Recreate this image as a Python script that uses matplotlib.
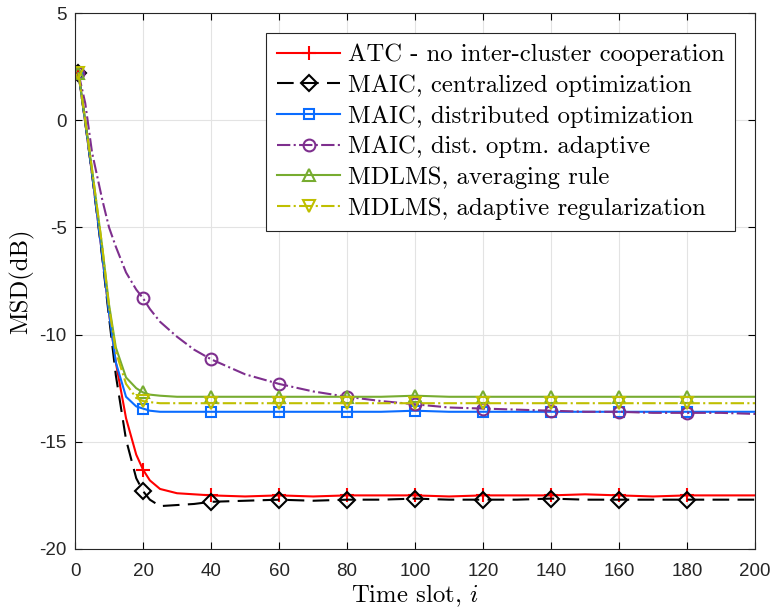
import matplotlib
matplotlib.use("Agg")
import matplotlib.pyplot as plt

plt.rcParams['mathtext.fontset'] = 'cm'
plt.rcParams['axes.unicode_minus'] = False

t = [1, 3, 5, 8, 10, 12, 15, 18, 20, 22, 25, 30, 35, 40, 50, 60, 70, 80, 90,
     100, 110, 120, 130, 140, 150, 160, 170, 180, 190, 200]

atc = [2.2, -0.1, -2.5, -6.3, -9.0, -11.3, -13.9, -15.6, -16.3, -16.8, -17.2, -17.4,
       -17.45, -17.5, -17.55, -17.5, -17.55, -17.5, -17.5, -17.5, -17.55, -17.5, -17.5,
       -17.5, -17.45, -17.5, -17.55, -17.5, -17.5, -17.5]
maic_cent = [2.2, -0.1, -2.5, -6.4, -9.2, -11.9, -14.9, -16.7, -17.3, -17.7, -18.0, -17.95,
             -17.9, -17.8, -17.75, -17.7, -17.75, -17.7, -17.7, -17.65, -17.7, -17.7, -17.7,
             -17.65, -17.7, -17.7, -17.7, -17.7, -17.7, -17.7]
maic_dist = [2.2, -0.1, -2.5, -6.3, -9.0, -11.3, -12.9, -13.35, -13.45, -13.55, -13.6, -13.6,
             -13.6, -13.6, -13.6, -13.6, -13.6, -13.6, -13.6, -13.55, -13.6, -13.6, -13.6,
             -13.6, -13.6, -13.6, -13.6, -13.6, -13.6, -13.6]
maic_adapt = [2.2, 0.8, -1.5, -3.7, -5.0, -5.9, -7.1, -7.9, -8.3, -8.8, -9.4, -10.1,
              -10.7, -11.15, -11.85, -12.3, -12.65, -12.9, -13.1, -13.25, -13.4, -13.45,
              -13.5, -13.55, -13.6, -13.6, -13.65, -13.65, -13.65, -13.7]
mdlms_avg = [2.2, 0.0, -2.3, -5.9, -8.6, -10.6, -12.0, -12.5, -12.7, -12.8, -12.85, -12.9,
             -12.9, -12.9, -12.9, -12.9, -12.9, -12.9, -12.9, -12.85, -12.9, -12.9, -12.9,
             -12.9, -12.9, -12.9, -12.9, -12.9, -12.9, -12.9]
mdlms_reg = [2.2, 0.0, -2.3, -5.9, -8.7, -10.8, -12.3, -12.95, -13.1, -13.15, -13.2, -13.2,
             -13.2, -13.2, -13.2, -13.2, -13.2, -13.2, -13.2, -13.2, -13.2, -13.2, -13.2,
             -13.2, -13.2, -13.2, -13.2, -13.2, -13.2, -13.2]

labels = ["ATC - no inter-cluster cooperation", "MAIC, centralized optimization",
          "MAIC, distributed optimization", "MAIC, dist. optm. adaptive",
          "MDLMS, averaging rule", "MDLMS, adaptive regularization"]

marker_t = [1, 20, 40, 60, 80, 100, 120, 140, 160, 180]
mk_idx = [t.index(v) for v in marker_t]

series = [atc, maic_cent, maic_dist, maic_adapt, mdlms_avg, mdlms_reg]
colors = ['#ff0000', '#000000', '#0a6cff', '#7e2f8e', '#77ac30', '#bfbf00']
styles = ['-', (0, (8, 4)), '-', '-.', '-', '-.']
markers = ['+', 'D', 's', 'o', '^', 'v']
msizes = [10, 8, 7, 8.5, 9, 9]

fig = plt.figure(figsize=(7.8, 6.16), dpi=100)
ax = fig.add_axes([0.0962, 0.1088, 0.8718, 0.870])

for y, c, ls, m, ms, lab in zip(series, colors, styles, markers, msizes, labels):
    ax.plot(t, y, color=c, linestyle=ls, linewidth=1.5, marker=m, markersize=ms,
            markevery=mk_idx, markerfacecolor='none', markeredgecolor=c,
            markeredgewidth=1.5, label=lab)

ax.set_xlim(0, 200)
ax.set_ylim(-20, 5)
ax.set_xticks(range(0, 201, 20))
ax.set_yticks(range(-20, 6, 5))
ax.grid(True, color='#e3e3e3', linewidth=0.8)
ax.set_axisbelow(True)
ax.tick_params(direction='in', top=True, right=True, length=5, labelsize=13.5, width=0.8)
ax.tick_params(axis='x', pad=10)
ax.tick_params(axis='y', pad=6)
for lab in ax.get_xticklabels() + ax.get_yticklabels():
    lab.set_fontfamily('Liberation Sans')
    lab.set_color('#262626')
for s in ax.spines.values():
    s.set_color('#262626')
    s.set_linewidth(0.8)

ax.set_xlabel('Time slot, $i$', fontfamily='cmr10', fontsize=17.8, labelpad=2)
ax.set_ylabel('MSD(dB)', fontfamily='cmr10', fontsize=17.8, labelpad=4)

leg = ax.legend(loc='upper right', prop={'family': 'cmr10', 'size': 17.8},
                fancybox=False, edgecolor='#262626', framealpha=1,
                handlelength=2.55, borderaxespad=0.8, labelspacing=0.33,
                handletextpad=0.3, borderpad=0.45)
leg.get_frame().set_linewidth(0.8)

fig.savefig('out.png', dpi=100)
